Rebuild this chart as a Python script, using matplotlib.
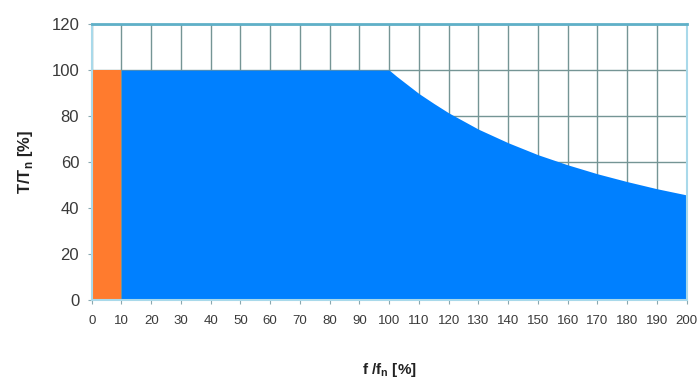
import matplotlib
matplotlib.use("Agg")
import matplotlib.pyplot as plt

plt.rcParams['font.family'] = ['Liberation Sans', 'DejaVu Sans']

# data
f_orange = [0, 10]
t_orange = [100, 100]
f_blue = [10, 20, 30, 40, 50, 60, 70, 80, 90, 100, 102.5, 105, 110, 115, 120, 130, 140, 150, 160, 170, 180, 190, 200]
t_blue = [100, 100, 100, 100, 100, 100, 100, 100, 100, 100, 97.3, 94.8, 89.8, 85.5, 81.4, 74.3, 68.4, 63.2, 58.8, 54.9, 51.5, 48.4, 45.7]
x_ticks = list(range(0, 201, 10))
y_ticks = list(range(0, 121, 20))

fig = plt.figure(figsize=(7.0, 3.83), dpi=100)
ax = fig.add_axes([0.131, 0.2167, 0.85, 0.7203])

ax.set_xlim(0, 200)
ax.set_ylim(0, 120)
ax.set_xticks(x_ticks)
ax.set_yticks(y_ticks)
ax.set_xticklabels([str(v) for v in x_ticks], fontsize=9.5, color='#3a3a3a')
ax.set_yticklabels([str(v) for v in y_ticks], fontsize=12, color='#3a3a3a')
ax.tick_params(axis='both', length=3, width=0.8, color='#8aa8b0', direction='out')
ax.tick_params(axis='x', pad=8)
ax.tick_params(axis='y', pad=6)

ax.grid(True, color='#759595', linewidth=1.0, zorder=0)
ax.set_axisbelow(True)

ax.fill_between(f_orange, 0, t_orange, color='#ff7b2e', linewidth=0, zorder=2)
ax.fill_between(f_blue, 0, t_blue, color='#0080ff', linewidth=0, zorder=2)

for side in ['left', 'right', 'bottom']:
    ax.spines[side].set_color('#a9d9ea')
    ax.spines[side].set_linewidth(1.5)
ax.spines['top'].set_color('#5fb0c8')
ax.spines['top'].set_linewidth(2.0)

ax.set_ylabel(r'T/T$_\mathregular{n}$ [%]', fontsize=12, fontweight='bold', color='#222222', labelpad=12)
ax.set_xlabel(r'f /f$_\mathregular{n}$ [%]', fontsize=11, fontweight='bold', color='#222222', labelpad=24)

fig.savefig('out.png', dpi=100)
